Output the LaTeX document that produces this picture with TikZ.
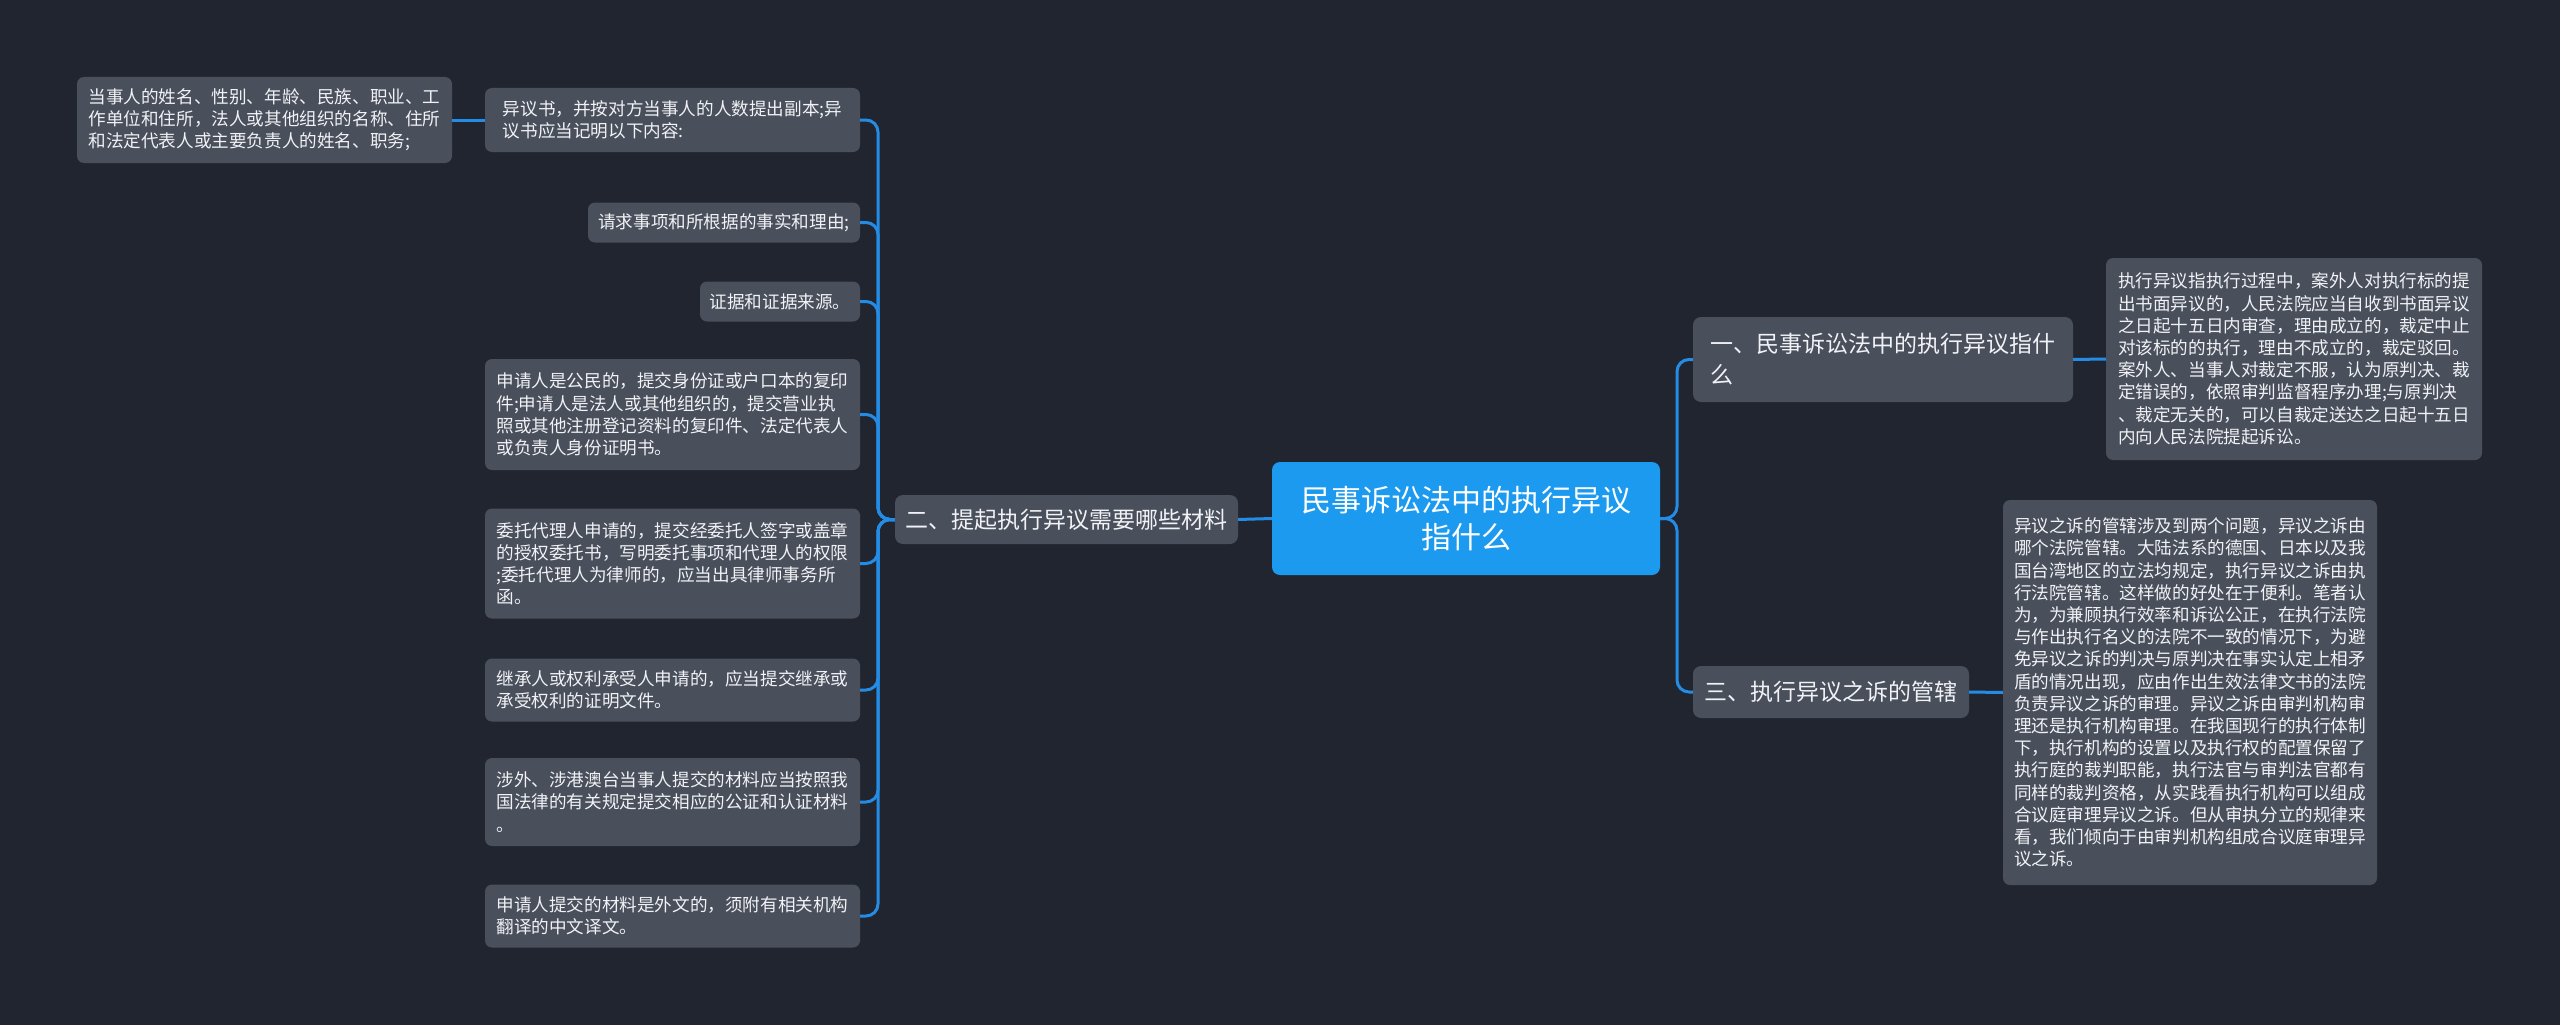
\documentclass[tikz,border=0pt]{standalone}
\usepackage{fontspec}
\setmainfont{Noto Sans CJK SC}
\definecolor{bgc}{RGB}{33,37,48}
\definecolor{boxc}{RGB}{74,79,92}
\definecolor{rootc}{RGB}{27,154,240}
\definecolor{linec}{RGB}{36,140,228}
\definecolor{txtc}{RGB}{240,242,245}
\tikzset{
  leaf/.style={fill=boxc, rounded corners=7pt, inner sep=0pt, align=left, text=txtc,
    font=\fontsize{17.6}{22.2}\selectfont},
  branchbox/.style={fill=boxc, rounded corners=8pt, inner sep=0pt, align=left, text=txtc,
    font=\fontsize{23}{31}\selectfont},
  rootbox/.style={fill=rootc, rounded corners=8pt, inner sep=0pt, align=center, text=white,
    font=\fontsize{30}{37.5}\selectfont},
  conn/.style={draw=linec, line width=3pt, rounded corners=12pt}
}
\begin{document}
\begin{tikzpicture}[x=1pt,y=-1pt]
\path[fill=bgc] (0,0) rectangle (2560,1025);
\useasboundingbox (0,0) rectangle (2560,1025);

% root
\node[rootbox, minimum width=388, minimum height=113] (root) at (1466,518.5) {民事诉讼法中的执行异议\\指什么};

% right branches
\node[branchbox, minimum width=380, minimum height=85] (b1) at (1883,359.5) {一、民事诉讼法中的执行异议指什\\么};
\node[branchbox, minimum width=276, minimum height=52] (b3) at (1831,692) {三、执行异议之诉的管辖};

\node[leaf, minimum width=376, minimum height=202] (r1) at (2294,359) {执行异议指执行过程中，案外人对执行标的提\\出书面异议的，人民法院应当自收到书面异议\\之日起十五日内审查，理由成立的，裁定中止\\对该标的的执行，理由不成立的，裁定驳回。\\案外人、当事人对裁定不服，认为原判决、裁\\定错误的，依照审判监督程序办理;与原判决\\、裁定无关的，可以自裁定送达之日起十五日\\内向人民法院提起诉讼。};

\node[leaf, minimum width=374, minimum height=385] (r3) at (2190,692.5) {异议之诉的管辖涉及到两个问题，异议之诉由\\哪个法院管辖。大陆法系的德国、日本以及我\\国台湾地区的立法均规定，执行异议之诉由执\\行法院管辖。这样做的好处在于便利。笔者认\\为，为兼顾执行效率和诉讼公正，在执行法院\\与作出执行名义的法院不一致的情况下，为避\\免异议之诉的判决与原判决在事实认定上相矛\\盾的情况出现，应由作出生效法律文书的法院\\负责异议之诉的审理。异议之诉由审判机构审\\理还是执行机构审理。在我国现行的执行体制\\下，执行机构的设置以及执行权的配置保留了\\执行庭的裁判职能，执行法官与审判法官都有\\同样的裁判资格，从实践看执行机构可以组成\\合议庭审理异议之诉。但从审执分立的规律来\\看，我们倾向于由审判机构组成合议庭审理异\\议之诉。};

% left branch
\node[branchbox, minimum width=343, minimum height=49] (b2) at (1066.5,519.5) {二、提起执行异议需要哪些材料};

\node[leaf, minimum width=375, minimum height=64] (l1) at (672.5,120) {异议书，并按对方当事人的人数提出副本;异\\议书应当记明以下内容:};
\node[leaf, minimum width=375, minimum height=86] (l1a) at (264.5,120) {当事人的姓名、性别、年龄、民族、职业、工\\作单位和住所，法人或其他组织的名称、住所\\和法定代表人或主要负责人的姓名、职务;};
\node[leaf, minimum width=272, minimum height=40] (l2) at (724,222.5) {请求事项和所根据的事实和理由;};
\node[leaf, minimum width=160, minimum height=40] (l3) at (780,301.5) {证据和证据来源。};
\node[leaf, minimum width=375, minimum height=111] (l4) at (672.5,414.5) {申请人是公民的，提交身份证或户口本的复印\\件;申请人是法人或其他组织的，提交营业执\\照或其他注册登记资料的复印件、法定代表人\\或负责人身份证明书。};
\node[leaf, minimum width=375, minimum height=110] (l5) at (672.5,563.5) {委托代理人申请的，提交经委托人签字或盖章\\的授权委托书，写明委托事项和代理人的权限\\;委托代理人为律师的，应当出具律师事务所\\函。};
\node[leaf, minimum width=375, minimum height=63] (l6) at (672.5,690) {继承人或权利承受人申请的，应当提交继承或\\承受权利的证明文件。};
\node[leaf, minimum width=375, minimum height=88] (l7) at (672.5,802) {涉外、涉港澳台当事人提交的材料应当按照我\\国法律的有关规定提交相应的公证和认证材料\\。};
\node[leaf, minimum width=375, minimum height=63] (l8) at (672.5,916) {申请人提交的材料是外文的，须附有相关机构\\翻译的中文译文。};

% trunks
\coordinate (tl) at (878,0);
\coordinate (tr) at (1677,0);

% connectors
\draw[conn] (root.west) -- (b2.east);
\foreach \n in {l1,l2,l3,l4,l5,l6,l7,l8}{
  \draw[conn] (b2.west) -- (b2.west -| tl) |- (\n.east);
}
\draw[conn] (l1.west) -- (l1a.east);
\draw[conn] (root.east) -- (root.east -| tr) |- (b1.west);
\draw[conn] (root.east) -- (root.east -| tr) |- (b3.west);
\draw[conn] (b1.east) -- (r1.west);
\draw[conn] (b3.east) -- (r3.west);

% redraw nodes on top of connectors
\end{tikzpicture}
\end{document}
